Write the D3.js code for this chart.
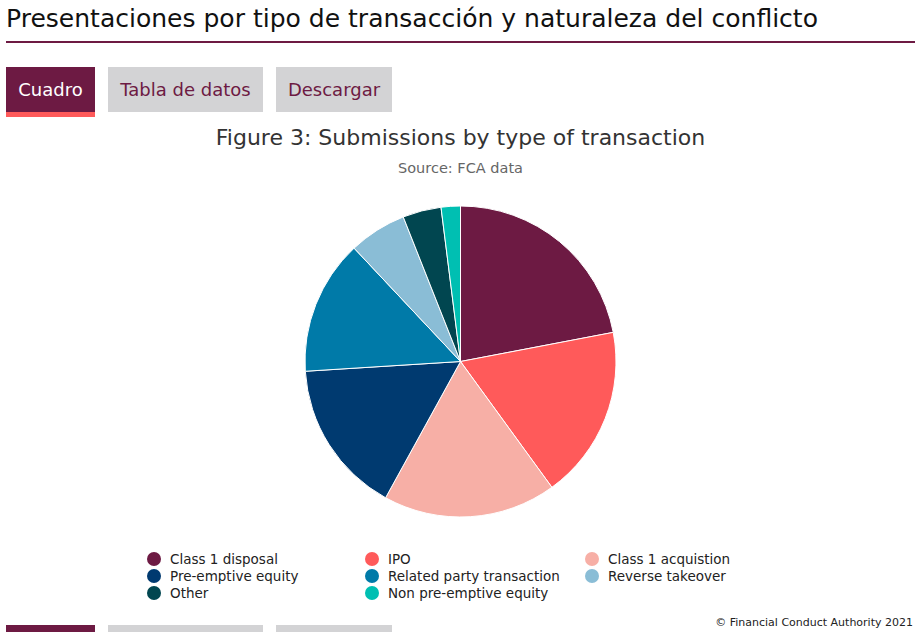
<!DOCTYPE html>
<html><head><meta charset="utf-8">
<script src="https://cdnjs.cloudflare.com/ajax/libs/d3/7.8.5/d3.min.js"></script>
<style>
html,body{margin:0;padding:0;background:#fff;}
svg{display:block;}
</style></head>
<body>
<svg id="c" width="921" height="632"></svg>
<script>
const pageTitle = "Presentaciones por tipo de transacción y naturaleza del conflicto";
const tabs = ["Cuadro", "Tabla de datos", "Descargar"];
const chartTitle = "Figure 3: Submissions by type of transaction";
const chartSubtitle = "Source: FCA data";
const credit = "© Financial Conduct Authority 2021";
const categories = ["Class 1 disposal", "IPO", "Class 1 acquistion", "Pre-emptive equity",
  "Related party transaction", "Reverse takeover", "Other", "Non pre-emptive equity"];
const values = [11, 9, 9, 8, 7, 3, 2, 1];
const colors = ["#6d1a43", "#ff5a5a", "#f7afa6", "#003a70", "#007aa8", "#8abdd6", "#014650", "#00bfb2"];

const svg = d3.select("#c");
const verdana = "Verdana, 'DejaVu Sans', sans-serif";

// Page title
svg.append("text").attr("x", 6).attr("y", 27).text(pageTitle)
  .attr("font-family", verdana).attr("font-size", 24.5).attr("fill", "#111")
  .attr("textLength", 812).attr("lengthAdjust", "spacingAndGlyphs");
svg.append("rect").attr("x", 6).attr("y", 41).attr("width", 909).attr("height", 2).attr("fill", "#6d1a43");

// Tabs (top and bottom copy)
const tabX = d3.scaleOrdinal().domain(tabs).range([6, 108, 276]);
const tabW = d3.scaleOrdinal().domain(tabs).range([89, 155, 116]);
function drawTabs(y0, withText) {
  const g = svg.append("g");
  tabs.forEach((t, i) => {
    g.append("rect").attr("x", tabX(t)).attr("y", y0).attr("width", tabW(t)).attr("height", 45)
      .attr("fill", i === 0 ? "#6d1a43" : "#d3d3d5");
    if (withText) {
      g.append("text").attr("x", tabX(t) + tabW(t) / 2).attr("y", y0 + 29)
        .attr("text-anchor", "middle").attr("font-family", verdana).attr("font-size", 18)
        .attr("fill", i === 0 ? "#fff" : "#6d1a43").text(t);
    }
    if (i === 0 && withText) {
      g.append("rect").attr("x", tabX(t)).attr("y", y0 + 45).attr("width", tabW(t)).attr("height", 5).attr("fill", "#ff5a5a");
    }
  });
}
drawTabs(67, true);
drawTabs(625, false);

// Chart titles
svg.append("text").attr("x", 460.5).attr("y", 145).attr("text-anchor", "middle")
  .attr("font-family", verdana).attr("font-size", 22).attr("fill", "#333").text(chartTitle);
svg.append("text").attr("x", 460.5).attr("y", 173).attr("text-anchor", "middle")
  .attr("font-family", verdana).attr("font-size", 14.5).attr("fill", "#666").text(chartSubtitle);

// Pie
const color = d3.scaleOrdinal().domain(categories).range(colors);
const pie = d3.pie().sort(null).value(d => d.v);
const arcs = pie(categories.map((c, i) => ({ c, v: values[i] })));
const arc = d3.arc().innerRadius(0).outerRadius(155.5);
const pg = svg.append("g").attr("transform", "translate(460.5,361.5)");
pg.selectAll("path").data(arcs).join("path")
  .attr("d", arc).attr("fill", d => color(d.data.c))
  .attr("stroke", "#fff").attr("stroke-width", 1);

// Legend
const colX = d3.scaleOrdinal().domain([0, 1, 2]).range([154, 372, 592]);
const rowY = d3.scaleLinear().domain([0, 1]).range([559, 576]);
const lg = svg.append("g");
categories.forEach((c, i) => {
  const cx = colX(i % 3), cy = rowY(Math.floor(i / 3));
  lg.append("circle").attr("cx", cx).attr("cy", cy).attr("r", 7).attr("fill", color(c));
  lg.append("text").attr("x", cx + 16).attr("y", cy + 5).attr("font-family", verdana)
    .attr("font-size", 13.5).attr("fill", "#222").text(c);
});

// Credit
svg.append("text").attr("x", 913).attr("y", 626).attr("text-anchor", "end")
  .attr("font-family", verdana).attr("font-size", 11).attr("fill", "#222").text(credit);
</script>
</body></html>
